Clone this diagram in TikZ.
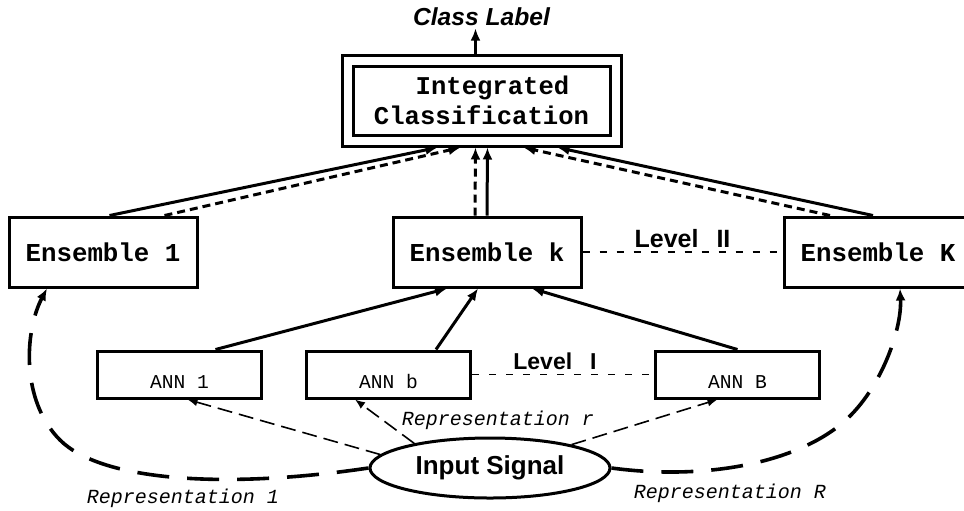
\documentclass[tikz,border=0pt]{standalone}
\usepackage{fontspec}
\newfontfamily\cour{Liberation Mono}
\newfontfamily\helv{Liberation Sans}
\usetikzlibrary{positioning, calc, fit, arrows.meta, shapes.geometric}

\begin{document}
\begin{tikzpicture}[x=0.5pt, y=-0.5pt,
	box/.style={draw, rectangle, line width=1.5pt},
	ensbox/.style={box, minimum width=94pt, minimum height=35pt, inner sep=0pt, font=\cour\bfseries\fontsize{12.9}{15}\selectfont},
	annbox/.style={box, minimum width=82pt, minimum height=23.5pt, inner sep=0pt, text height=13.5pt, text depth=0pt, font=\cour\fontsize{9.8}{12}\selectfont},
	ibox/.style={box, minimum width=128.5pt, minimum height=34.5pt, inner sep=0pt, align=center, font=\cour\bfseries\fontsize{12.8}{15}\selectfont},
	obox/.style={box, inner sep=4.75pt},
	sigell/.style={draw, ellipse, line width=1.5pt, minimum width=120pt, minimum height=30pt, inner sep=0pt, font=\helv\bfseries\fontsize{13}{15}\selectfont},
	rep/.style={font=\cour\itshape\fontsize{10}{12}\selectfont},
	lvlbl/.style={midway, above, inner sep=2pt, font=\helv\bfseries\fontsize{11.5}{13}\selectfont},
	arr/.style={line width=1.5pt, -{Latex[length=6pt,width=5pt]}},
	darr/.style={arr, dash pattern=on 4pt off 2.5pt},
	sarr/.style={line width=0.8pt, dash pattern=on 7.5pt off 3.5pt, -{Latex[length=5pt,width=4pt]}},
	bigd/.style={line width=1.8pt, dash pattern=on 16pt off 9pt, -{Latex[length=6pt,width=5pt]}},
	lvl/.style={line width=0.6pt, dash pattern=on 3.5pt off 5pt}]
	\useasboundingbox (0,0) rectangle (964,510);
	% level II
	\node[ibox] (intc) at (481.5,100.5) {\hspace*{11pt}Integrated\\Classification};
	\node[obox, fit=(intc)] (intcbox) {};
	\node[inner sep=1pt, font=\helv\bfseries\itshape\fontsize{12.3}{14}\selectfont] (cls) [above=12.5pt of intcbox] {Class Label};
	\node[ensbox] (Ek) at (487,252) {Ensemble k};
	\node[ensbox] (E1) [left=96.5pt of Ek] {Ensemble 1};
	\node[ensbox] (EK) [right=100pt of Ek] {Ensemble K};
	% level I
	\node[annbox] (Ab) at (388.5,374.5) {ANN b};
	\node[annbox] (A1) [left=21pt of Ab] {ANN 1};
	\node[annbox] (AB) [right=91pt of Ab] {ANN B};
	\node[sigell] (sig) at (490,468) {Input Signal};
	\node[rep] (rr) [above=0pt of sig, xshift=4pt] {Representation r};
	\node[rep] (r1) at (183,498) {Representation 1};
	\node[rep] (rR) at (730,493) {Representation R};

	\draw[arr] ([xshift=-3pt]intcbox.north) -- ([xshift=-3pt]cls.south);
	\draw[arr] ([xshift=3.25pt]E1.north) -- ([xshift=-22pt]intcbox.south);
	\draw[darr] ([xshift=30.75pt]E1.north) -- ([xshift=-10.5pt]intcbox.south);
	\draw[darr] ([xshift=-6pt]Ek.north) -- ([xshift=-3pt]intcbox.south);
	\draw[arr] (Ek.north) -- ([xshift=3pt]intcbox.south);
	\draw[darr] ([xshift=-24pt]EK.north) -- ([xshift=21pt]intcbox.south);
	\draw[arr] ([xshift=-2.5pt]EK.north) -- ([xshift=38pt]intcbox.south);

	\draw[arr] ([xshift=18pt]A1.north) -- ([xshift=-20pt]Ek.south);
	\draw[arr] ([xshift=23.75pt]Ab.north) -- ([xshift=-4.5pt]Ek.south);
	\draw[arr] (AB.north) -- ([xshift=22.5pt]Ek.south);

	\draw[sarr] (sig.173) -- ([xshift=4pt]A1.south);
	\draw[sarr] (sig.162) -- ([xshift=-16.75pt]Ab.south);
	\draw[sarr] (sig.16) -- ([xshift=-10pt]AB.south);

	\draw[lvl] (Ek.east) -- node[lvlbl, font=\helv\bfseries\fontsize{12.5}{14}\selectfont] {Level\hspace{9pt}II} (EK.west);
	\draw[lvl] (Ab.east) -- node[lvlbl, xshift=-4pt] {Level\hspace{9pt}I} (AB.west);

	\draw[bigd] (sig.west) .. controls (220,490) and (100,480) .. (60,440) .. controls (20,400) and (25,330) .. ([xshift=-28pt]E1.south);
	\draw[bigd] (sig.east) .. controls (700,480) and (790,465) .. (840,425) .. controls (880,393) and (902,330) .. ([xshift=11pt]EK.south);
\end{tikzpicture}
\end{document}
